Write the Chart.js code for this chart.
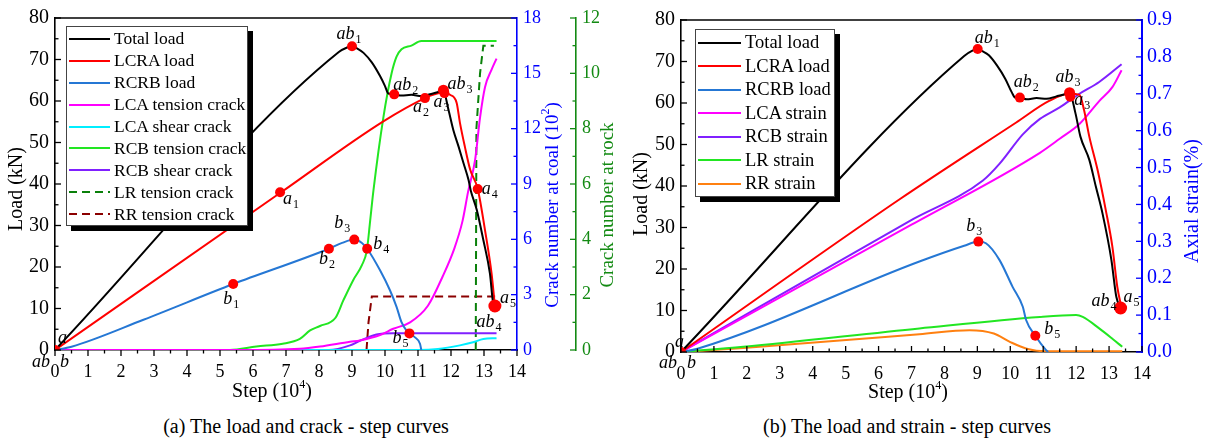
<!DOCTYPE html>
<html>
<head>
<meta charset="utf-8">
<title>Load, crack and strain - step curves</title>
<script src="https://cdn.jsdelivr.net/npm/chart.js@4.4.1/dist/chart.umd.min.js"></script>
<style>
  html, body { margin: 0; padding: 0; background: #fff; }
  #page { position: relative; width: 1213px; height: 442px; overflow: hidden;
          font-family: 'Liberation Serif', 'Times New Roman', serif; color: #000; }
  #page canvas { position: absolute; top: 0; }
  #chartA { left: 0; }
  #chartB { left: 615px; }
  .legend { position: absolute; box-sizing: border-box; background: #fff;
            font-family: 'Liberation Serif', 'Times New Roman', serif;
            border: 1px solid #444; box-shadow: 5px 5px 0 #000; }
  .legend .row { display: flex; align-items: center; white-space: nowrap; }
  .legend .swatch { display: inline-block; height: 2px; margin: 0 4px 0 2px; flex: none; }
  .caption { position: absolute; top: 416px; font-size: 20px; line-height: 20px;
             font-family: 'Liberation Serif', 'Times New Roman', serif;
             white-space: nowrap; transform: translateX(-50%); }
</style>
</head>
<body>
<div id="page">
  <canvas id="chartA" width="620" height="402"></canvas>
  <canvas id="chartB" width="598" height="402"></canvas>
  <div class="legend" id="legendA"></div>
  <div class="legend" id="legendB"></div>
  <div class="caption" style="left:306px">(a) The load and crack - step curves</div>
  <div class="caption" style="left:907px">(b) The load and strain - step curves</div>
</div>
<script>
(function () {
  'use strict';

  var SERIF = "'Liberation Serif', 'Times New Roman', serif";
  Chart.defaults.font.family = SERIF;

  // -- Axis ranges: min, max, step --
  var stepAxis = [0, 14, 1];
  var loadAxis = [0, 80, 10];
  var coalAxis = [0, 18, 3];
  var rockAxis = [0, 12, 2];
  var strainAxis = [0, 0.9, 0.1];

  // -- (a) Load and crack: [step (10^4), value] --
  var totalLoadA = [[0, 0], [8.6, 71.8], [8.85, 72.9], [9.0, 73.2], [9.15, 72.7], [9.35, 71.6], [9.6, 69.3],
    [9.85, 66.0], [10.0, 63.6], [10.1, 61.8], [10.28, 61.6], [10.5, 61.3], [10.8, 61.5], [11.1, 61.2],
    [11.4, 61.7], [11.77, 62.4], [11.92, 58.0], [12.07, 53.0], [12.23, 49.0], [12.38, 45.0], [12.53, 41.0],
    [12.6, 38.4], [12.78, 33.8], [12.98, 26.5], [13.18, 18.4], [13.28, 11.2], [13.33, 10.6]];
  var lcraLoadA = [[0, 0], [6.85, 38], [9.95, 55.1], [11.21, 60.7], [11.5, 61.6], [11.8, 62.1], [11.97, 61.5],
    [12.17, 59.6], [12.27, 54.8], [12.42, 49], [12.58, 43.5], [12.81, 38.8], [13.03, 28.9], [13.23, 18.4],
    [13.33, 10.6]];
  var rcrbLoadA = [[0, 0], [0.5, 0.8], [2.68, 7.3], [5.4, 15.9], [8.3, 24.4], [8.7, 25.8], [9.07, 26.6],
    [9.3, 25.8], [9.46, 24.4], [9.85, 19.2], [10.15, 14.4], [10.35, 10.4], [10.5, 6.7], [10.65, 4.7],
    [10.74, 4.0], [10.9, 3.1], [11.06, 1.5], [11.1, 0]];
  // crack number at coal (10^2)
  var lcaTensionA = [[0, 0], [5.5, 0], [7.42, 0.07], [8.03, 0.19], [8.94, 0.45], [9.24, 0.52], [9.85, 0.81],
    [10.25, 1.15], [10.76, 1.5], [11.3, 2.4], [11.75, 4.0], [12.1, 5.5], [12.35, 7.0], [12.52, 8.6],
    [12.73, 10.3], [12.88, 12.6], [13.03, 14.25], [13.23, 15.2], [13.38, 15.8]];
  var lcaShearA = [[0, 0], [11.0, 0], [11.6, 0.05], [12.27, 0.25], [12.67, 0.42], [12.98, 0.6], [13.38, 0.64]];
  var rcbTensionA = [[0, 0], [5.3, 0], [6.1, 0.19], [6.9, 0.34], [7.42, 0.6], [7.73, 1.06], [8.03, 1.3],
    [8.5, 1.75], [8.74, 2.7], [9.04, 3.8], [9.3, 4.6], [9.45, 5.4], [9.55, 7.0], [9.65, 8.65], [9.95, 12.6],
    [10.2, 15.0], [10.35, 15.9], [10.5, 16.3], [10.8, 16.5], [11.1, 16.75], [13.38, 16.75]];
  var rcbShearA = [[0, 0], [8.3, 0], [8.94, 0.25], [9.24, 0.5], [9.74, 0.84], [10.25, 0.91], [13.38, 0.91]];
  // crack number at rock
  var lrTensionA = [[12.75, 0], [12.77, 8], [12.88, 10], [12.98, 11], [13.3, 11]];
  var rrTensionA = [[9.44, 0], [9.5, 1.0], [9.6, 1.93], [13.38, 1.93]];
  // marked points on the load curves
  var markersA = [[0, 0], [6.82, 38], [5.4, 15.9], [8.3, 24.4], [9.07, 26.6], [9.46, 24.4], [10.74, 4.0],
    [9.0, 73.2], [10.28, 61.6], [11.21, 60.7], [11.77, 62.6], [11.8, 61.9], [12.81, 38.8], [13.33, 10.6]];
  var markerNamesA = [['a', 'ab', 'b'], ['a1'], ['b1'], ['b2'], ['b3'], ['b4'], ['b5'], ['ab1'], ['ab2'],
    ['a2'], ['ab3'], ['a3'], ['a4'], ['a5', 'ab4']];

  // -- (b) Load and strain --
  var totalLoadB = [[0, 0], [8.6, 71.3], [8.85, 72.6], [9.01, 73], [9.15, 72.5], [9.35, 71.5], [9.6, 69],
    [9.85, 65.8], [10.05, 62.5], [10.15, 61.3], [10.29, 61.3], [10.5, 60.9], [10.8, 61.2], [11.1, 61.0],
    [11.4, 61.6], [11.6, 62.0], [11.8, 62.5], [11.98, 57.5], [12.13, 51.9], [12.4, 46.3], [12.6, 39.8],
    [12.8, 33.4], [13.07, 22.2], [13.22, 13.3], [13.35, 10.6]];
  var lcraLoadB = [[0, 0], [6.64, 36.8], [10.18, 55.3], [11.18, 60.5], [11.8, 62.2], [12.1, 62.0],
    [12.24, 58.3], [12.4, 51.9], [12.65, 43.9], [12.9, 34.2], [13.1, 25.4], [13.25, 15.7], [13.38, 10.6]];
  var rcrbLoadB = [[0, 0], [0.5, 0.8], [7.24, 21.8], [8.6, 25.6], [9.03, 26.6], [9.26, 26.2], [9.67, 22.2],
    [10.07, 15.7], [10.38, 10.9], [10.48, 7.7], [10.76, 3.9], [11.08, 0.5], [11.15, 0]];
  // axial strain (%)
  var lcaStrainB = [[0, 0], [7, 0.345], [10.9, 0.54], [11.5, 0.578], [12.1, 0.618], [12.7, 0.68],
    [13.1, 0.718], [13.38, 0.764]];
  var rcbStrainB = [[0, 0], [6.94, 0.355], [9.17, 0.465], [9.67, 0.51], [10.38, 0.59], [10.9, 0.632],
    [11.5, 0.663], [12.1, 0.70], [12.7, 0.732], [13.38, 0.78]];
  var lrStrainB = [[0, 0], [1.89, 0.014], [7.24, 0.064], [10.9, 0.095], [12.0, 0.1], [12.2, 0.095],
    [12.7, 0.064], [13.1, 0.036], [13.4, 0.014]];
  var rrStrainB = [[0, 0], [1.89, 0.011], [7.24, 0.048], [8.76, 0.059], [9.5, 0.05], [10.0, 0.027],
    [10.5, 0.009], [11.08, 0.002], [13.4, 0.002]];
  var markersB = [[0, 0], [9.01, 73], [10.29, 61.3], [11.8, 62.5], [11.82, 61.5], [9.03, 26.6],
    [10.76, 3.9], [13.35, 10.6]];
  var markerNamesB = [['a', 'ab', 'b'], ['ab1'], ['ab2'], ['ab3'], ['a3'], ['b3'], ['b5'], ['ab4', 'a5']];

  // -- Styles --
  var AXIS_BLUE = '#0000ff';
  var AXIS_GREEN = '#138a13';
  var COLORS = {
    total: '#000000', lcra: '#ff0000', rcrb: '#2577d4', magenta: '#ff00ff', cyan: '#00eeff',
    green: '#22e622', violet: '#8020ff', dgreen: '#0a800a', dred: '#8b0000', orange: '#ff8010'
  };
  // label offset from its marker: dx, dy (baseline), alignment
  var labelPosA = {
    a: [3, -7, 'left'], ab: [-5, 17, 'right'], b: [5, 17, 'left'], a1: [3, 12, 'left'],
    b1: [-2, 20, 'center'], b2: [-2, 15, 'center'], b3: [-12, -12, 'center'], b4: [6, 0, 'left'],
    b5: [-1, 10, 'right'], ab1: [-3, -7, 'center'], ab2: [-1, -4, 'left'], a2: [-4, 14, 'center'],
    ab3: [4, -1, 'left'], a3: [-3, 14, 'center'], a4: [4, 5, 'left'], a5: [5, -3, 'left'],
    ab4: [-6, 21, 'center']
  };
  var labelPosB = {
    a: [-6, -5, 'left'], ab: [-4, 16, 'right'], b: [6, 16, 'left'], ab1: [-3, -6, 'left'],
    ab2: [-6, -11, 'left'], ab3: [-14, -11, 'left'], a3: [4, 8, 'left'], b3: [-12, -11, 'left'],
    b5: [9, -2, 'left'], ab4: [-4, -2, 'right'], a5: [3, -6, 'left']
  };
  var markerSize = { a5: 6.5, ab4: 6.5, ab3: 5.5 };

  function xy(pairs) {
    return pairs.map(function (p) { return { x: p[0], y: p[1] }; });
  }

  function lineSet(label, pairs, color, axisId, dashed) {
    return {
      label: label,
      data: xy(pairs),
      yAxisID: axisId,
      borderColor: color,
      backgroundColor: color,
      borderWidth: 2,
      borderDash: dashed ? [8, 5] : [],
      pointRadius: 0,
      pointHoverRadius: 0,
      fill: false,
      cubicInterpolationMode: dashed ? 'default' : 'monotone'
    };
  }

  function markerSet(points, names) {
    var radii = names.map(function (n) { return markerSize[n[0]] || 5; });
    return {
      label: '',
      isMarker: true,
      data: xy(points),
      yAxisID: 'yLoad',
      showLine: false,
      pointRadius: radii,
      pointHoverRadius: radii,
      pointBackgroundColor: '#ff0000',
      pointBorderWidth: 0,
      order: -1
    };
  }

  function axis(range, position, color, size, thickness, pad, weight) {
    return {
      type: 'linear',
      position: position,
      min: range[0],
      max: range[1],
      weight: weight || 0,
      grid: { display: false, drawTicks: false },
      border: { color: color, width: 1.6 },
      ticks: {
        stepSize: range[2],
        color: color,
        padding: pad,
        autoSkip: false,
        font: { family: SERIF, size: size }
      },
      afterFit: function (s) {
        if (position === 'bottom') { s.height = thickness; } else { s.width = thickness; }
      }
    };
  }

  function drawRich(ctx, t) {
    var widths = [];
    var total = 0;
    var supSize = Math.round(t.size * 0.62);
    t.parts.forEach(function (p, i) {
      ctx.font = (p[1] ? supSize : t.size) + 'px ' + SERIF;
      widths[i] = ctx.measureText(p[0]).width;
      total += widths[i];
    });
    ctx.save();
    ctx.translate(t.x, t.y);
    if (t.rot) { ctx.rotate(-Math.PI / 2); }
    ctx.fillStyle = t.color;
    ctx.textAlign = 'left';
    ctx.textBaseline = 'middle';
    var cx = -total / 2;
    t.parts.forEach(function (p, i) {
      ctx.font = (p[1] ? supSize : t.size) + 'px ' + SERIF;
      ctx.fillText(p[0], cx, p[1] ? -t.size * 0.36 : 0);
      cx += widths[i];
    });
    ctx.restore();
  }

  function drawPointLabel(ctx, name, x, y, align) {
    var m = /^([a-z]+)(\d*)$/.exec(name);
    ctx.font = 'italic 18px ' + SERIF;
    var w1 = ctx.measureText(m[1]).width;
    ctx.font = '12px ' + SERIF;
    var w2 = m[2] ? ctx.measureText(m[2]).width + 1 : 0;
    var w = w1 + w2;
    var x0 = align === 'left' ? x : (align === 'right' ? x - w : x - w / 2);
    ctx.fillStyle = '#000';
    ctx.textAlign = 'left';
    ctx.textBaseline = 'alphabetic';
    ctx.font = 'italic 18px ' + SERIF;
    ctx.fillText(m[1], x0, y);
    if (m[2]) {
      ctx.font = '12px ' + SERIF;
      ctx.fillText(m[2], x0 + w1 + 1, y + 4);
    }
  }

  // Frame line, inward/outward ticks with minors, rich axis titles, point labels.
  function decor(cfg) {
    return {
      id: 'decor',
      afterDraw: function (chart) {
        var ctx = chart.ctx;
        var area = chart.chartArea;
        ctx.save();
        ctx.strokeStyle = '#000';
        ctx.lineWidth = 1.6;
        ctx.beginPath();
        ctx.moveTo(area.left, area.top);
        ctx.lineTo(area.right, area.top);
        ctx.stroke();

        cfg.ticks.forEach(function (t) {
          var s = chart.scales[t[0]];
          var major = t[1], minor = t[2], dir = t[3];
          var n = Math.round((s.max - s.min) / minor);
          var every = Math.round(major / minor);
          ctx.strokeStyle = t[4];
          ctx.lineWidth = 1.3;
          for (var i = 0; i <= n; i++) {
            var p = s.getPixelForValue(s.min + i * minor);
            var len = (i % every === 0 ? 6 : 3.5) * dir;
            ctx.beginPath();
            if (s.position === 'bottom') {
              ctx.moveTo(p, s.top); ctx.lineTo(p, s.top - len);
            } else if (s.position === 'left') {
              ctx.moveTo(s.right, p); ctx.lineTo(s.right + len, p);
            } else {
              ctx.moveTo(s.left, p); ctx.lineTo(s.left - len, p);
            }
            ctx.stroke();
          }
        });

        cfg.titles.forEach(function (t) { drawRich(ctx, t); });

        var xs = chart.scales.x;
        var ys = chart.scales.yLoad;
        cfg.markers.forEach(function (m, i) {
          var px = xs.getPixelForValue(m[0]);
          var py = ys.getPixelForValue(m[1]);
          cfg.names[i].forEach(function (name) {
            var o = cfg.pos[name];
            drawPointLabel(ctx, name, px + o[0], py + o[1], o[2]);
          });
        });
        ctx.restore();
      }
    };
  }

  function buildLegend(chart, id, spec) {
    var box = document.getElementById(id);
    box.style.left = spec.left + 'px';
    box.style.top = spec.top + 'px';
    box.style.width = spec.width + 'px';
    box.style.height = spec.height + 'px';
    box.style.paddingTop = spec.padTop + 'px';
    box.style.fontSize = spec.font + 'px';
    chart.data.datasets.forEach(function (ds) {
      if (ds.isMarker) { return; }
      var row = document.createElement('div');
      row.className = 'row';
      row.style.height = spec.row + 'px';
      var sw = document.createElement('span');
      sw.className = 'swatch';
      sw.style.width = spec.swatch + 'px';
      sw.style.background = ds.borderDash.length
        ? 'repeating-linear-gradient(90deg,' + ds.borderColor + ' 0 8px, transparent 8px 13px)'
        : ds.borderColor;
      var tx = document.createElement('span');
      tx.textContent = ds.label;
      row.appendChild(sw);
      row.appendChild(tx);
      box.appendChild(row);
    });
  }

  var stepTitle = [['Step (10', false], ['4', true], [')', false]];
  var loadTitle = [['Load (kN)', false]];

  // -- (a) Load and crack - step curves --
  var chartA = new Chart(document.getElementById('chartA'), {
    type: 'line',
    data: {
      datasets: [
        lineSet('Total load', totalLoadA, COLORS.total, 'yLoad'),
        lineSet('LCRA load', lcraLoadA, COLORS.lcra, 'yLoad'),
        lineSet('RCRB load', rcrbLoadA, COLORS.rcrb, 'yLoad'),
        lineSet('LCA tension crack', lcaTensionA, COLORS.magenta, 'yCoal'),
        lineSet('LCA shear crack', lcaShearA, COLORS.cyan, 'yCoal'),
        lineSet('RCB tension crack', rcbTensionA, COLORS.green, 'yCoal'),
        lineSet('RCB shear crack', rcbShearA, COLORS.violet, 'yCoal'),
        lineSet('LR tension crack', lrTensionA, COLORS.dgreen, 'yRock', true),
        lineSet('RR tension crack', rrTensionA, COLORS.dred, 'yRock', true),
        markerSet(markersA, markerNamesA)
      ]
    },
    options: {
      responsive: false,
      animation: false,
      events: [],
      layout: { padding: { top: 18, right: 0, bottom: 0, left: 0 } },
      plugins: { legend: { display: false }, tooltip: { enabled: false } },
      scales: {
        x: axis(stepAxis, 'bottom', '#000', 18, 52, 11),
        yLoad: axis(loadAxis, 'left', '#000', 20, 55, 6),
        yCoal: axis(coalAxis, 'right', AXIS_BLUE, 18, 59, 6, 1),
        yRock: axis(rockAxis, 'right', AXIS_GREEN, 18, 44, 6, 2)
      }
    },
    plugins: [decor({
      ticks: [['x', 1, 0.5, -1, '#000'], ['yLoad', 10, 5, 1, '#000'],
        ['yCoal', 3, 1.5, 1, AXIS_BLUE], ['yRock', 2, 1, 1, AXIS_GREEN]],
      titles: [
        { parts: loadTitle, x: 17, y: 189, size: 20, color: '#000', rot: true },
        { parts: stepTitle, x: 272, y: 392, size: 20, color: '#000' },
        { parts: [['Crack number at coal (10', false], ['2', true], [')', false]],
          x: 553, y: 205, size: 19, color: AXIS_BLUE, rot: true },
        { parts: [['Crack number at rock', false]], x: 608, y: 205, size: 19, color: AXIS_GREEN, rot: true }
      ],
      markers: markersA,
      names: markerNamesA,
      pos: labelPosA
    })]
  });

  // -- (b) Load and strain - step curves --
  var chartB = new Chart(document.getElementById('chartB'), {
    type: 'line',
    data: {
      datasets: [
        lineSet('Total load', totalLoadB, COLORS.total, 'yLoad'),
        lineSet('LCRA load', lcraLoadB, COLORS.lcra, 'yLoad'),
        lineSet('RCRB load', rcrbLoadB, COLORS.rcrb, 'yLoad'),
        lineSet('LCA strain', lcaStrainB, COLORS.magenta, 'yStrain'),
        lineSet('RCB strain', rcbStrainB, COLORS.violet, 'yStrain'),
        lineSet('LR strain', lrStrainB, COLORS.green, 'yStrain'),
        lineSet('RR strain', rrStrainB, COLORS.orange, 'yStrain'),
        markerSet(markersB, markerNamesB)
      ]
    },
    options: {
      responsive: false,
      animation: false,
      events: [],
      layout: { padding: { top: 20, right: 0, bottom: 0, left: 0 } },
      plugins: { legend: { display: false }, tooltip: { enabled: false } },
      scales: {
        x: axis(stepAxis, 'bottom', '#000', 18, 50, 11),
        yLoad: axis(loadAxis, 'left', '#000', 20, 66, 6),
        yStrain: (function () {
          var s = axis(strainAxis, 'right', AXIS_BLUE, 20, 71, 5, 1);
          s.border.width = 2;
          s.ticks.callback = function (v) { return v.toFixed(1); };
          return s;
        })()
      }
    },
    plugins: [decor({
      ticks: [['x', 1, 0.5, 1, '#000'], ['yLoad', 10, 5, 1, '#000'], ['yStrain', 0.1, 0.05, 1, AXIS_BLUE]],
      titles: [
        { parts: loadTitle, x: 27, y: 194, size: 20, color: '#000', rot: true },
        { parts: stepTitle, x: 293, y: 393, size: 20, color: '#000' },
        { parts: [['Axial strain(%)', false]], x: 578, y: 201, size: 20, color: AXIS_BLUE, rot: true }
      ],
      markers: markersB,
      names: markerNamesB,
      pos: labelPosB
    })]
  });

  buildLegend(chartA, 'legendA', { left: 66, top: 26, width: 182, height: 200, padTop: 1, row: 21.9, swatch: 41, font: 17.5 });
  buildLegend(chartB, 'legendB', { left: 695, top: 29, width: 140, height: 168, padTop: 1, row: 23.5, swatch: 43, font: 18.5 });
})();
</script>
</body>
</html>
